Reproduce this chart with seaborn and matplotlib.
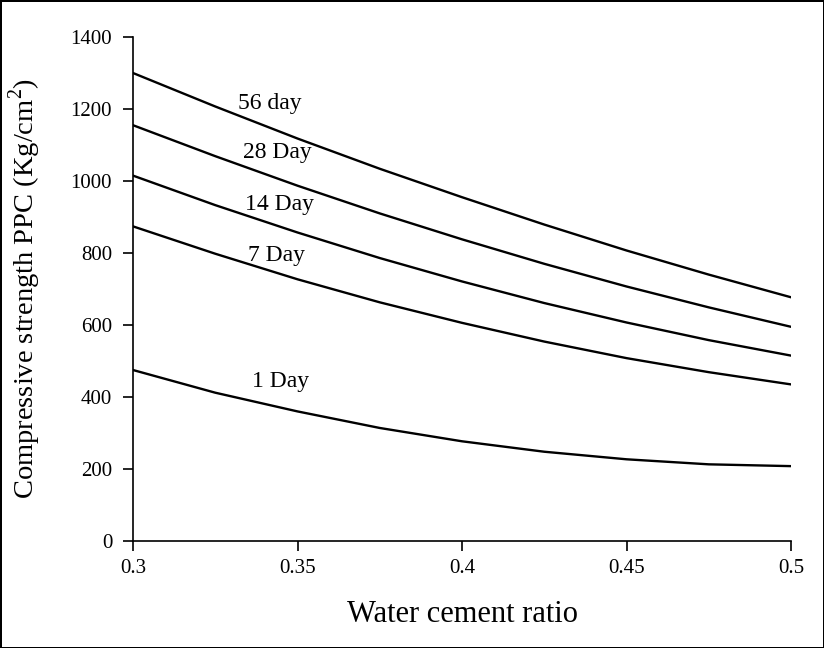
import pandas as pd
import matplotlib.pyplot as plt
import seaborn as sns

# datos
wc_ratio = [0.3, 0.325, 0.35, 0.375, 0.4, 0.425, 0.45, 0.475, 0.5]
day_56 = [1300, 1207, 1118, 1034, 955, 879, 807, 740, 677]
day_28 = [1155, 1069, 987, 910, 838, 770, 707, 649, 595]
day_14 = [1015, 933, 857, 786, 721, 661, 607, 558, 515]
day_7 = [874, 798, 727, 663, 606, 554, 508, 469, 435]
day_1 = [475, 412, 360, 314, 277, 248, 227, 213, 208]

series_names = ['56 day', '28 Day', '14 Day', '7 Day', '1 Day']
label_x = [0.3416, 0.344, 0.3444, 0.3435, 0.3447]
label_y = [1214, 1078, 936, 794, 442]

df = pd.DataFrame({
    'wc': wc_ratio * 5,
    'strength': day_56 + day_28 + day_14 + day_7 + day_1,
    'age': [n for n in series_names for _ in wc_ratio],
})

sns.set_style('ticks')
plt.rcParams['font.family'] = ['Liberation Serif', 'DejaVu Serif']
plt.rcParams['mathtext.fontset'] = 'custom'
plt.rcParams['mathtext.rm'] = 'Liberation Serif'
plt.rcParams['text.color'] = 'black'
plt.rcParams['axes.labelcolor'] = 'black'

fig = plt.figure(figsize=(8.24, 6.48), dpi=100)
fig.patch.set_edgecolor('black')
fig.patch.set_linewidth(2)
ax = fig.add_axes([0.1614, 0.1651, 0.7986, 0.7778])

sns.lineplot(data=df, x='wc', y='strength', hue='age', palette=['black'] * 5,
             linewidth=1.7, legend=False, ax=ax)

for name, lx, ly in zip(series_names, label_x, label_y):
    ax.text(lx, ly, name, fontsize=17, ha='center', va='center', color='black')

ax.set_xlim(0.3, 0.5)
ax.set_ylim(0, 1400)
ax.set_xticks([0.3, 0.35, 0.4, 0.45, 0.5])
ax.set_xticklabels(['0.3', '0.35', '0.4', '0.45', '0.5'])
ax.set_yticks(range(0, 1401, 200))
ax.tick_params(labelsize=15, length=7, width=1.2, color='black', labelcolor='black')
ax.tick_params(axis='y', pad=8)
ax.tick_params(axis='x', pad=6)
ax.set_xlabel('Water cement ratio', fontsize=22, labelpad=16)
ax.set_ylabel('Compressive strength PPC (Kg/cm$^2$)', fontsize=20.5, labelpad=20)
for s in ['left', 'bottom']:
    ax.spines[s].set_color('black')
    ax.spines[s].set_linewidth(1.2)
sns.despine(ax=ax)

fig.savefig('out.png', dpi=100)
